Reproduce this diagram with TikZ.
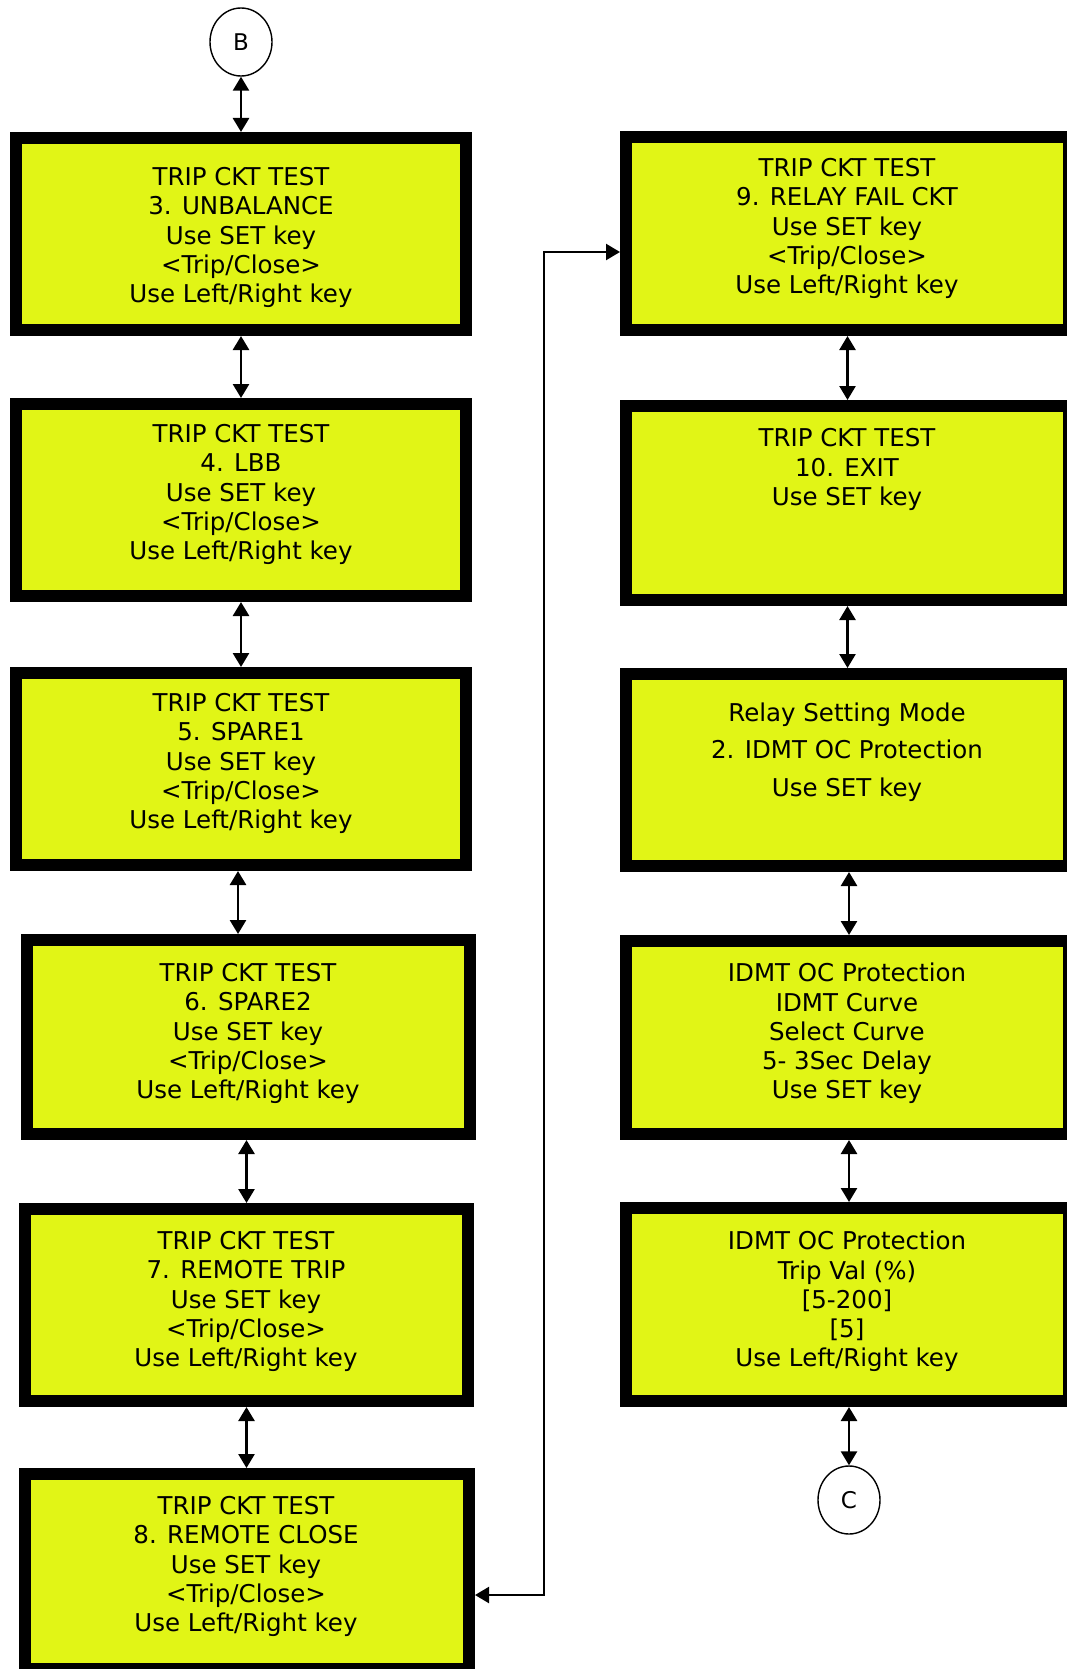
\documentclass[tikz,border=0pt]{standalone}
\usepackage{fontspec}
\setmainfont{DejaVu Sans}
\usetikzlibrary{arrows.meta,shapes.geometric}
\definecolor{lcd}{RGB}{225,245,22}
\tikzset{
  x=1pt,y=-1pt,
  lcdbox/.style={draw=black,line width=12pt,fill=lcd,rectangle,inner sep=0pt},
  lcdtext/.style={align=center,inner sep=0pt,font=\fontsize{24.5pt}{29.3pt}\selectfont},
  conn/.style={ellipse,draw=black,line width=1.4pt,minimum width=62pt,minimum height=68pt,inner sep=0pt,font=\fontsize{23pt}{27pt}\selectfont},
  arr/.style={line width=2.6pt,{Triangle[length=14pt,width=16pt]}-{Triangle[length=14pt,width=16pt]}},
  longarr/.style={line width=2.2pt,{Triangle[length=14pt,width=16pt]}-{Triangle[length=14pt,width=16pt]}}
}
\newcommand{\lcdbox}[5]{% name, x1, y1, x2, y2 (outer)
  \node[lcdbox,minimum width={#4-#2-12},minimum height={#5-#3-12}] (#1) at ({(#2+#4)/2},{(#3+#5)/2}) {};
}
\begin{document}
\begin{tikzpicture}
\useasboundingbox[fill=white] (0,0) rectangle (1066,1669);
% left column boxes
\lcdbox{b3}{10}{132}{472}{336}
\lcdbox{b4}{10}{398}{472}{602}
\lcdbox{b5}{10}{667}{472}{871}
\lcdbox{b6}{21}{934}{476}{1140}
\lcdbox{b7}{19}{1203}{474}{1407}
\lcdbox{b8}{19}{1468}{475}{1675}
% right column boxes
\lcdbox{b9}{620}{131}{1075}{336}
\lcdbox{b10}{620}{400}{1075}{606}
\lcdbox{br}{620}{668}{1075}{872}
\lcdbox{bi}{620}{935}{1075}{1140}
\lcdbox{bt}{620}{1202}{1075}{1407}
% texts
\node[lcdtext] (t3) at (241,237.6) {TRIP CKT TEST\\3. UNBALANCE\\Use SET key\\<Trip/Close>\\Use Left/Right key};
\node[lcdtext] (t4) at (241,494.6) {TRIP CKT TEST\\4. LBB\\Use SET key\\<Trip/Close>\\Use Left/Right key};
\node[lcdtext] (t5) at (241,763.6) {TRIP CKT TEST\\5. SPARE1\\Use SET key\\<Trip/Close>\\Use Left/Right key};
\node[lcdtext] (t6) at (248,1033.6) {TRIP CKT TEST\\6. SPARE2\\Use SET key\\<Trip/Close>\\Use Left/Right key};
\node[lcdtext] (t7) at (246,1301.6) {TRIP CKT TEST\\7. REMOTE TRIP\\Use SET key\\<Trip/Close>\\Use Left/Right key};
\node[lcdtext] (t8) at (246,1566.6) {TRIP CKT TEST\\8. REMOTE CLOSE\\Use SET key\\<Trip/Close>\\Use Left/Right key};
\node[lcdtext] (t9) at (847,228.6) {TRIP CKT TEST\\9. RELAY FAIL CKT\\Use SET key\\<Trip/Close>\\Use Left/Right key};
\node[lcdtext] (t10) at (847,469.5) {TRIP CKT TEST\\10. EXIT\\Use SET key};
\node[lcdtext,font=\fontsize{24.5pt}{37.3pt}\selectfont] (tr) at (847,752) {Relay Setting Mode\\2. IDMT OC Protection\\Use SET key};
\node[lcdtext] (ti) at (847,1033.6) {IDMT OC Protection\\IDMT Curve\\Select Curve\\5- 3Sec Delay\\Use SET key};
\node[lcdtext] (tt) at (847,1301.6) {IDMT OC Protection\\Trip Val (\%)\\{[5-200]}\\{[5]}\\Use Left/Right key};
% connectors
\node[conn] (B) at (241,42) {B};
\node[conn] (C) at (849,1500) {C};
\draw[arr] (B.south) -- (B.south |- b3.north);
\draw[arr] (b3.south) -- (b3.south |- b4.north);
\draw[arr] (b4.south) -- (b4.south |- b5.north);
\draw[arr] (b5.south -| 238,0) -- (b6.north -| 238,0);
\draw[arr] (b6.south -| b7.north) -- (b7.north);
\draw[arr] (b7.south) -- (b7.south |- b8.north);
\draw[arr] (b9.south) -- (b9.south |- b10.north);
\draw[arr] (b10.south) -- (b10.south |- br.north);
\draw[arr] (br.south -| 849,0) -- (bi.north -| 849,0);
\draw[arr] (bi.south -| 849,0) -- (bt.north -| 849,0);
\draw[arr] (bt.south -| C.north) -- (C.north);
\coordinate (k1) at (544,1595);
\coordinate (k2) at (544,252);
\draw[longarr] (b8.east |- k1) -- (k1) -- (k2) -- (b9.west |- k2);
\end{tikzpicture}
\end{document}
